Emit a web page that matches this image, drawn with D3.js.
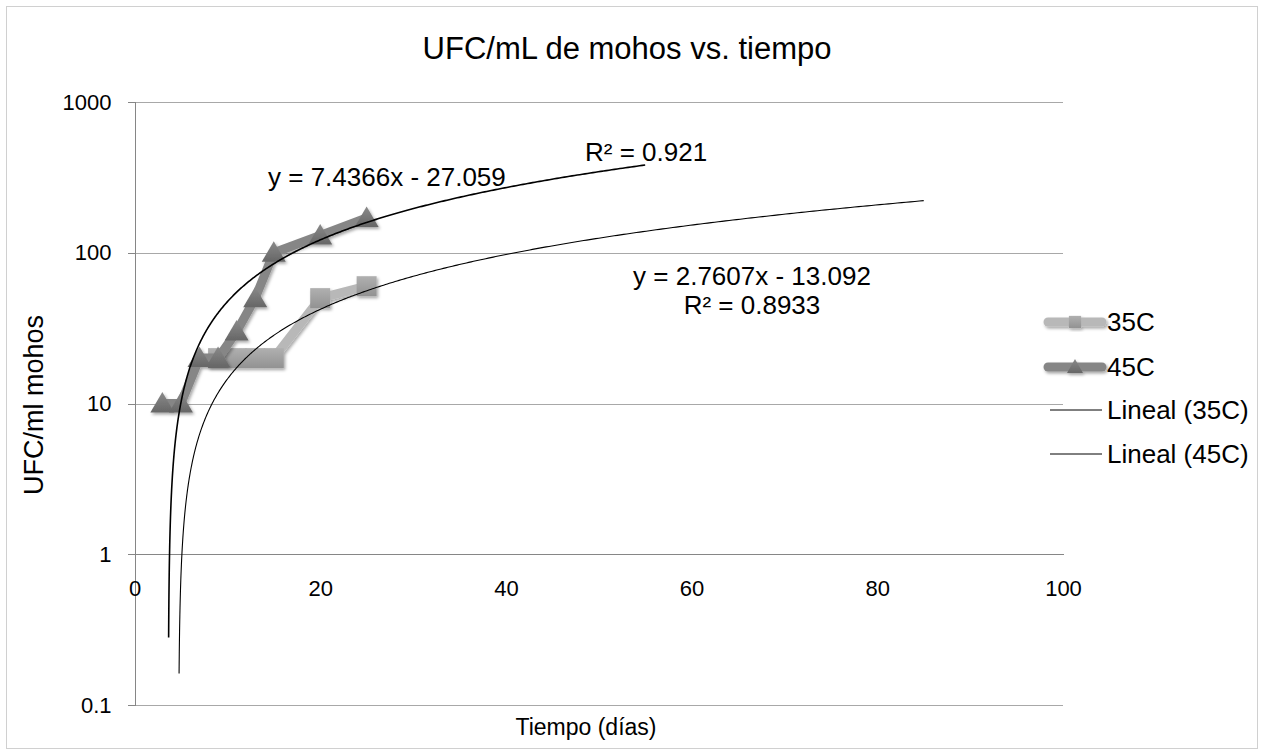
<!DOCTYPE html>
<html><head><meta charset="utf-8">
<script src="https://cdn.jsdelivr.net/npm/d3@7"></script>
<style>
body{margin:0;background:#fff;}
text{font-family:"Liberation Sans",Arial,sans-serif;fill:#000;}
</style>
</head><body>
<svg id="chart" width="1264" height="755"></svg>
<script>
// ---- data ----
const days35 = [9, 11, 13, 15, 20, 25];
const ufc35  = [20, 20, 20, 20, 50, 60];
const days45 = [3, 5, 7, 9, 11, 13, 15, 20, 25];
const ufc45  = [10, 10, 20, 20, 30, 50, 100, 130, 170];
const xTicks = [0, 20, 40, 60, 80, 100];
const yTicks = [0.1, 1, 10, 100, 1000];
const seriesNames = ["35C", "45C"];
const trendNames = ["Lineal (35C)", "Lineal (45C)"];
const trendSlope = [2.7607, 7.4366];
const trendIntercept = [-13.092, -27.059];
const trendR2 = ["0.8933", "0.921"];
const trendEq = ["y = 2.7607x - 13.092", "y = 7.4366x - 27.059"];
const trendXEnd = [85, 55];
const trendYMin = [0.162, 0.28];

(function () {
const svg = d3.select("#chart");
const W = 1264, H = 755;
const pL = 134.5, pR = 1063, pT = 102, pB = 705;
const x = d3.scaleLinear().domain([0, 100]).range([pL, pR]);
const y = d3.scaleLog().domain([0.1, 1000]).range([pB, pT]);
const FONT = "Liberation Sans, Arial, sans-serif";

svg.append("rect").attr("width", W).attr("height", H).attr("fill", "#fff");
svg.append("rect").attr("x", 6.5).attr("y", 6.5).attr("width", 1251).attr("height", 742)
  .attr("fill", "none").attr("stroke", "#d0d0d0");

const defs = svg.append("defs");
const f = defs.append("filter").attr("id", "sh").attr("x", "-30%").attr("y", "-30%").attr("width", "160%").attr("height", "160%");
f.append("feDropShadow").attr("dx", 1.5).attr("dy", 2).attr("stdDeviation", 1.6)
  .attr("flood-color", "#000").attr("flood-opacity", 0.35);
const g1 = defs.append("linearGradient").attr("id", "gTri").attr("x1", 0).attr("y1", 0).attr("x2", 0).attr("y2", 1);
g1.append("stop").attr("offset", "0%").attr("stop-color", "#8a8a8a");
g1.append("stop").attr("offset", "100%").attr("stop-color", "#666");
const g2 = defs.append("linearGradient").attr("id", "gSq").attr("x1", 0).attr("y1", 0).attr("x2", 0).attr("y2", 1);
g2.append("stop").attr("offset", "0%").attr("stop-color", "#b0b0b0");
g2.append("stop").attr("offset", "100%").attr("stop-color", "#929292");

// gridlines
svg.append("g").attr("transform", `translate(${pL},0)`)
  .call(d3.axisLeft(y).tickValues(yTicks).tickSize(-(pR - pL)).tickFormat(""))
  .call(g => g.select(".domain").remove())
  .call(g => g.selectAll("line").attr("stroke", "#a8a8a8").attr("shape-rendering", "crispEdges"));

// y axis
svg.append("g").attr("transform", `translate(${pL},0)`)
  .call(d3.axisLeft(y).tickValues(yTicks).tickSize(7).tickPadding(16).tickFormat(d3.format("~g")))
  .call(g => g.select(".domain").attr("stroke", "#868686").attr("shape-rendering", "crispEdges"))
  .call(g => g.selectAll("line").attr("stroke", "#868686").attr("shape-rendering", "crispEdges"))
  .call(g => g.selectAll("text").attr("font-size", 22).attr("font-family", FONT).attr("fill", "#000"));

// x axis (crosses at y = 1)
svg.append("g").attr("transform", `translate(0,${y(1)})`)
  .call(d3.axisBottom(x).tickValues(xTicks).tickSize(0).tickPadding(26).tickFormat(d3.format("d")))
  .call(g => g.select(".domain").attr("stroke", "#868686").attr("shape-rendering", "crispEdges"))
  .call(g => g.selectAll("text").attr("font-size", 22).attr("font-family", FONT).attr("fill", "#000"));

// series
const pts35 = days35.map((d, i) => [d, ufc35[i]]);
const pts45 = days45.map((d, i) => [d, ufc45[i]]);
const line = d3.line().x(d => x(d[0])).y(d => y(d[1]));

function drawSeries(pts, color, marker) {
  const g = svg.append("g").attr("filter", "url(#sh)");
  g.append("path").attr("d", line(pts)).attr("fill", "none").attr("stroke", color)
    .attr("stroke-width", 9).attr("stroke-linejoin", "round").attr("stroke-linecap", "round");
  g.selectAll("path.m").data(pts).join("path").attr("class", "m")
    .attr("transform", d => `translate(${x(d[0])},${y(d[1])})`)
    .attr("d", marker === "square" ? d3.symbol(d3.symbolSquare, 400)() : "M0,-11.5L12,9L-12,9Z")
    .attr("fill", marker === "square" ? "url(#gSq)" : "url(#gTri)");
}
drawSeries(pts35, "#b8b8b8", "square");
drawSeries(pts45, "#868686", "triangle");

// trendlines
const trendWidth = [1.1, 1.6];
trendSlope.forEach((m, i) => {
  const b = trendIntercept[i];
  const x0 = (trendYMin[i] - b) / m, x1 = trendXEnd[i];
  const samples = d3.range(0, 1.0001, 0.002).map(t => {
    const xv = x0 + (x1 - x0) * Math.pow(t, 3);
    return [xv, m * xv + b];
  });
  svg.append("path").attr("d", line(samples)).attr("fill", "none")
    .attr("stroke", "#000").attr("stroke-width", trendWidth[i]);
});

// trend labels
svg.append("text").attr("x", 752).attr("y", 285).attr("text-anchor", "middle").attr("font-size", 26).text(trendEq[0]);
svg.append("text").attr("x", 752).attr("y", 314).attr("text-anchor", "middle").attr("font-size", 26).text("R² = " + trendR2[0]);
svg.append("text").attr("x", 268).attr("y", 186).attr("font-size", 26).text(trendEq[1]);
svg.append("text").attr("x", 585).attr("y", 161).attr("font-size", 26).text("R² = " + trendR2[1]);

// title & axis titles
svg.append("text").attr("x", 627).attr("y", 59).attr("text-anchor", "middle").attr("font-size", 31).text("UFC/mL de mohos vs. tiempo");
svg.append("text").attr("x", 586).attr("y", 735).attr("text-anchor", "middle").attr("font-size", 23).text("Tiempo (días)");
svg.append("text").attr("transform", "translate(43,405) rotate(-90)").attr("text-anchor", "middle").attr("font-size", 27).text("UFC/ml mohos");

// legend
const legY = [322, 367, 410, 454];
const lg = svg.append("g");
[0, 1].forEach(i => {
  const gi = lg.append("g").attr("filter", "url(#sh)");
  gi.append("line").attr("x1", 1048).attr("x2", 1102).attr("y1", legY[i]).attr("y2", legY[i])
    .attr("stroke", i === 0 ? "#b8b8b8" : "#868686").attr("stroke-width", 9).attr("stroke-linecap", "round");
  gi.append("path").attr("transform", `translate(1075,${legY[i]})`)
    .attr("d", i === 0 ? d3.symbol(d3.symbolSquare, 150)() : "M0,-8L8,6L-8,6Z")
    .attr("fill", i === 0 ? "url(#gSq)" : "url(#gTri)");
  lg.append("text").attr("x", 1107).attr("y", legY[i]).attr("dy", "0.35em").attr("font-size", 26).text(seriesNames[i]);
});
[0, 1].forEach(i => {
  lg.append("line").attr("x1", 1050).attr("x2", 1102).attr("y1", legY[2 + i]).attr("y2", legY[2 + i])
    .attr("stroke", "#000").attr("stroke-width", 1);
  lg.append("text").attr("x", 1107).attr("y", legY[2 + i]).attr("dy", "0.35em").attr("font-size", 26).text(trendNames[i]);
});
})();
</script>
</body></html>
